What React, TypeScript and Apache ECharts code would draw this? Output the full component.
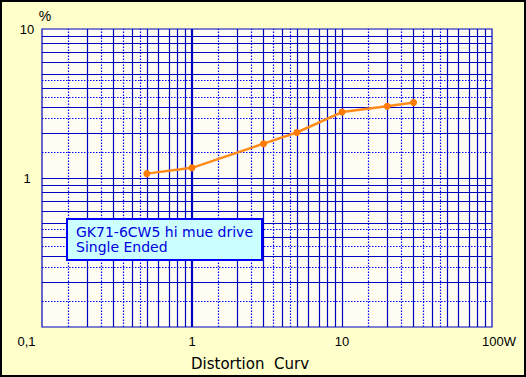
import React, { useEffect, useRef } from 'react';
import * as echarts from 'echarts';

// Data
const powerW = [0.5, 1, 3, 5, 10, 20, 30];
const distortionPct = [1.07, 1.17, 1.7, 2.02, 2.77, 3.03, 3.21];

// Log-grid structure
const xDecades = [0.1, 1, 10];
const yDecades = [0.1, 1];
const solidMinor = [2, 3, 4, 5, 6, 7, 8, 9];
const dottedMinor = [1.5, 2.5, 3.5, 4.5];
const thickX = [1];

const legendLines = ['GK71-6CW5 hi mue drive', 'Single Ended'];
const xTitle = 'Distortion  Curv';

const SOLID = '#0000C0';
const DOTTED = '#0000FF';

function gridItems(axis: 'xAxis' | 'yAxis', decades: number[], thick: number[]) {
  const items: any[] = [];
  decades.forEach((d) => {
    if (d !== decades[0]) {
      const isThick = thick.includes(d);
      items.push({ [axis]: d, lineStyle: { type: 'solid', color: SOLID, width: isThick ? 2.2 : 1.2 } });
    }
    solidMinor.forEach((m) => items.push({ [axis]: +(d * m).toPrecision(6), lineStyle: { type: 'solid', color: SOLID, width: 1.2 } }));
    dottedMinor.forEach((m) => items.push({ [axis]: +(d * m).toPrecision(6), lineStyle: { type: [1.5, 1.5], color: DOTTED, width: 1.2 } }));
  });
  return items;
}

export default function App() {
  const ref = useRef<HTMLDivElement>(null);
  useEffect(() => {
    document.body.style.margin = '0';
    const chart = echarts.init(ref.current!, undefined, { renderer: 'svg' });
    const tickFont = { fontFamily: 'Liberation Sans', fontSize: 13, color: '#000' };
    chart.setOption({
      animation: false,
      backgroundColor: '#FFFFCC',
      title: {
        text: legendLines.join('\n'),
        left: 67,
        top: 219,
        backgroundColor: '#CCFFFF',
        borderColor: '#0000FF',
        borderWidth: 2,
        padding: [5, 9, 6, 9],
        textStyle: { fontFamily: 'DejaVu Sans', fontSize: 14, fontWeight: 'normal', color: '#0000DD', lineHeight: 15 },
      },
      grid: {
        left: 42, right: 34, top: 29, bottom: 50,
        show: true, backgroundColor: '#FFFCF3', borderColor: SOLID, borderWidth: 1.2,
      },
      xAxis: {
        type: 'log', logBase: 10, min: 0.1, max: 100,
        axisLine: { show: false }, axisTick: { show: false }, splitLine: { show: false },
        name: xTitle, nameLocation: 'middle', nameGap: 29,
        nameTextStyle: { fontFamily: 'DejaVu Sans', fontSize: 15, color: '#000', padding: [0, 34, 0, 0] },
        axisLabel: {
          ...tickFont, margin: 8, showMinLabel: true, showMaxLabel: true,
          formatter: (v: number) => {
            const e = Math.round(Math.log10(v));
            if (e === -1) return '{d|0,1}';
            if (e === 2) return '{w|100W}';
            return String(Math.round(v));
          },
          rich: {
            d: { ...tickFont, padding: [0, 31, 0, 0] },
            w: { ...tickFont, padding: [0, 0, 0, 14] },
          },
        },
      },
      yAxis: {
        type: 'log', logBase: 10, min: 0.1, max: 10,
        axisLine: { show: false }, axisTick: { show: false }, splitLine: { show: false },
        name: '%', nameLocation: 'end', nameGap: 6,
        nameTextStyle: { fontFamily: 'Liberation Sans', fontSize: 14, color: '#000', align: 'center', padding: [0, 0, 0, 6] },
        axisLabel: {
          ...tickFont, margin: 15, align: 'center', showMinLabel: true, showMaxLabel: true,
          formatter: (v: number) => {
            const e = Math.round(Math.log10(v));
            if (e === -1) return '';
            return String(Math.round(v));
          },
        },
      },
      series: [
        {
          type: 'line', data: [], z: 1, silent: true,
          markLine: {
            silent: true, symbol: ['none', 'none'], label: { show: false }, animation: false,
            data: [...gridItems('xAxis', xDecades, thickX), ...gridItems('yAxis', yDecades, [])],
          },
        },
        {
          type: 'line', z: 5,
          data: powerW.map((x, i) => [x, distortionPct[i]]),
          symbol: 'circle', symbolSize: 7,
          lineStyle: { color: '#FF8C1A', width: 2.5 },
          itemStyle: { color: '#FF7A00' },
        },
      ],
    });
    return () => chart.dispose();
  }, []);
  return (
    <div style={{ position: 'relative', width: 526, height: 377 }}>
      <div ref={ref} style={{ width: 526, height: 377 }} />
      <div style={{ position: 'absolute', left: 0, top: 0, width: 526, height: 377, boxSizing: 'border-box', border: '2px solid #000', pointerEvents: 'none' }} />
    </div>
  );
}
